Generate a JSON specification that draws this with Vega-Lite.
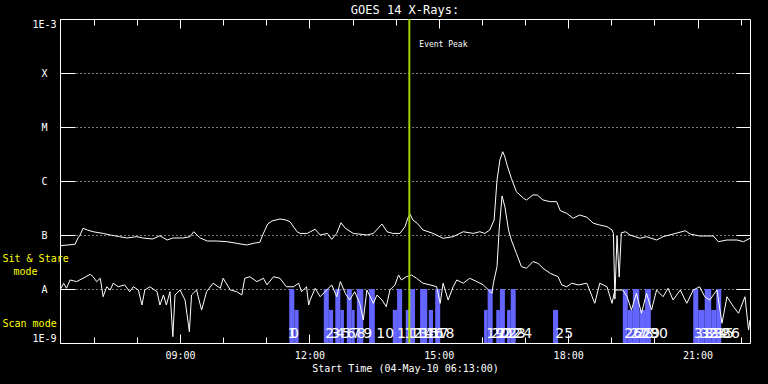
{
  "$schema": "https://vega.github.io/schema/vega-lite/v6.json",
  "width": 690,
  "height": 324,
  "autosize": "none",
  "padding": {"left": 60, "top": 19, "right": 18, "bottom": 41},
  "background": "black",
  "title": {"text": "GOES 14 X-Rays:", "color": "white", "font": "DejaVu Sans Mono", "fontSize": 12, "fontWeight": "normal", "offset": 1},
  "config": {
    "view": {"stroke": "white", "strokeWidth": 1},
    "axis": {"domain": false, "grid": false, "labelColor": "white", "tickColor": "white", "labelFont": "DejaVu Sans Mono", "labelFontSize": 10, "titleColor": "white", "titleFont": "DejaVu Sans Mono", "titleFontSize": 10, "titleFontWeight": "normal", "labelFlush": false, "labelOverlap": false}
  },
  "resolve": {"axis": {"x": "independent", "y": "independent"}},
  "layer": [
    {
      "data": {"values": [
        {"a":11.533,"b":11.65,"top":1e-8},{"a":11.65,"b":11.75,"top":4.1e-9},
        {"a":12.333,"b":12.45,"top":1e-8},{"a":12.45,"b":12.55,"top":4.1e-9},
        {"a":12.6,"b":12.717,"top":1e-8},{"a":12.717,"b":12.8,"top":4.1e-9},
        {"a":12.867,"b":12.983,"top":1e-8},{"a":12.983,"b":13.05,"top":4.1e-9},
        {"a":13.1,"b":13.25,"top":1e-8},{"a":13.383,"b":13.517,"top":1e-8},
        {"a":13.933,"b":14.033,"top":4.1e-9},{"a":14.033,"b":14.15,"top":1e-8},
        {"a":14.233,"b":14.333,"top":4.1e-9},{"a":14.333,"b":14.45,"top":1e-8},
        {"a":14.567,"b":14.733,"top":1e-8},{"a":14.767,"b":14.867,"top":4.1e-9},
        {"a":14.917,"b":15.033,"top":1e-8},
        {"a":16.05,"b":16.133,"top":4.1e-9},{"a":16.133,"b":16.25,"top":1e-8},
        {"a":16.333,"b":16.417,"top":4.1e-9},{"a":16.417,"b":16.533,"top":1e-8},
        {"a":16.583,"b":16.667,"top":4.1e-9},{"a":16.667,"b":16.783,"top":1e-8},
        {"a":17.65,"b":17.767,"top":4.1e-9},
        {"a":19.267,"b":19.383,"top":1e-8},{"a":19.383,"b":19.5,"top":4.1e-9},
        {"a":19.5,"b":19.65,"top":1e-8},{"a":19.65,"b":19.783,"top":4.1e-9},
        {"a":19.783,"b":19.917,"top":1e-8},
        {"a":20.9,"b":21.017,"top":1e-8},{"a":21.017,"b":21.167,"top":4.1e-9},
        {"a":21.167,"b":21.317,"top":1e-8},{"a":21.317,"b":21.433,"top":4.1e-9},
        {"a":21.433,"b":21.55,"top":1e-8}
      ]},
      "mark": {"type": "rect", "color": "#6464ff"},
      "encoding": {
        "x": {"field": "a", "type": "quantitative",
          "scale": {"domain": [6.21667, 22.21667], "nice": false, "zero": false},
          "axis": {"orient": "bottom", "title": "Start Time (04-May-10 06:13:00)",
            "values": [7, 8, 9, 10, 11, 12, 13, 14, 15, 16, 17, 18, 19, 20, 21, 22],
            "labelExpr": "datum.value % 3 == 0 ? (datum.value < 10 ? '0' : '') + datum.value + ':00' : ''",
            "tickSize": -6, "labelPadding": 13, "titlePadding": 3}},
        "x2": {"field": "b"},
        "y": {"field": "top", "type": "quantitative",
          "scale": {"type": "log", "domain": [1e-9, 1e-3]},
          "axis": {"orient": "left", "title": null,
            "values": [1e-9, 1e-8, 1e-7, 1e-6, 1e-5, 1e-4, 1e-3],
            "labelExpr": "datum.value > 5e-4 ? '1E-3' : datum.value > 5e-5 ? 'X' : datum.value > 5e-6 ? 'M' : datum.value > 5e-7 ? 'C' : datum.value > 5e-8 ? 'B' : datum.value > 5e-9 ? 'A' : '1E-9'",
            "grid": true, "gridColor": "white", "gridDash": [1, 3],
            "tickSize": -15, "labelPadding": 31, "labelAlign": "center", "labelFlush": true}},
        "y2": {"datum": 1e-9}
      }
    },
    {
      "data": {"values": [
        {"s":"L","h":6.217,"f":6.34e-8},{"s":"L","h":6.567,"f":6.73e-8},{"s":"L","h":6.633,"f":8.8e-8},{"s":"L","h":6.683,"f":1.0e-7},
        {"s":"L","h":6.75,"f":1.33e-7},{"s":"L","h":6.85,"f":1.24e-7},{"s":"L","h":6.983,"f":1.15e-7},{"s":"L","h":7.217,"f":1.07e-7},
        {"s":"L","h":7.383,"f":1.0e-7},{"s":"L","h":7.6,"f":9.31e-8},{"s":"L","h":7.767,"f":8.8e-8},{"s":"L","h":8.0,"f":9.31e-8},
        {"s":"L","h":8.133,"f":8.8e-8},{"s":"L","h":8.367,"f":8.43e-8},{"s":"L","h":8.533,"f":9.7e-8},{"s":"L","h":8.7,"f":8.08e-8},
        {"s":"L","h":8.833,"f":8.8e-8},{"s":"L","h":9.067,"f":8.8e-8},{"s":"L","h":9.233,"f":9.31e-8},{"s":"L","h":9.317,"f":1.15e-7},
        {"s":"L","h":9.467,"f":8.8e-8},{"s":"L","h":9.633,"f":7.74e-8},{"s":"L","h":9.85,"f":7.74e-8},{"s":"L","h":10.083,"f":7.52e-8},
        {"s":"L","h":10.317,"f":7.02e-8},{"s":"L","h":10.55,"f":6.53e-8},{"s":"L","h":10.733,"f":7.1e-8},{"s":"L","h":10.85,"f":7.33e-8},
        {"s":"L","h":10.917,"f":1.0e-7},{"s":"L","h":11.033,"f":1.6e-7},{"s":"L","h":11.133,"f":1.82e-7},{"s":"L","h":11.317,"f":1.98e-7},
        {"s":"L","h":11.45,"f":1.9e-7},{"s":"L","h":11.55,"f":1.76e-7},{"s":"L","h":11.65,"f":1.35e-7},{"s":"L","h":11.717,"f":1.15e-7},
        {"s":"L","h":11.783,"f":1.07e-7},{"s":"L","h":11.95,"f":1.07e-7},{"s":"L","h":12.133,"f":1.28e-7},{"s":"L","h":12.25,"f":1.0e-7},
        {"s":"L","h":12.417,"f":1.07e-7},{"s":"L","h":12.517,"f":8.32e-8},{"s":"L","h":12.633,"f":1.07e-7},{"s":"L","h":12.733,"f":1.69e-7},
        {"s":"L","h":12.833,"f":1.33e-7},{"s":"L","h":13.017,"f":1.07e-7},{"s":"L","h":13.333,"f":1.0e-7},{"s":"L","h":13.483,"f":1.07e-7},
        {"s":"L","h":13.683,"f":1.6e-7},{"s":"L","h":13.8,"f":1.15e-7},{"s":"L","h":13.933,"f":1.07e-7},{"s":"L","h":14.1,"f":1.07e-7},
        {"s":"L","h":14.217,"f":1.43e-7},{"s":"L","h":14.283,"f":2.06e-7},{"s":"L","h":14.333,"f":2.45e-7},{"s":"L","h":14.4,"f":1.9e-7},
        {"s":"L","h":14.5,"f":1.65e-7},{"s":"L","h":14.633,"f":1.24e-7},{"s":"L","h":14.867,"f":1.07e-7},{"s":"L","h":15.1,"f":8.69e-8},
        {"s":"L","h":15.333,"f":9.31e-8},{"s":"L","h":15.567,"f":1.15e-7},{"s":"L","h":15.8,"f":1.07e-7},{"s":"L","h":15.95,"f":1.15e-7},
        {"s":"L","h":16.067,"f":1.07e-7},{"s":"L","h":16.183,"f":1.24e-7},{"s":"L","h":16.283,"f":1.9e-7},{"s":"L","h":16.35,"f":1.04e-6},
        {"s":"L","h":16.417,"f":2.45e-6},{"s":"L","h":16.483,"f":3.49e-6},{"s":"L","h":16.533,"f":2.78e-6},{"s":"L","h":16.583,"f":1.98e-6},
        {"s":"L","h":16.683,"f":1.12e-6},{"s":"L","h":16.8,"f":6.34e-7},{"s":"L","h":16.967,"f":4.78e-7},{"s":"L","h":17.033,"f":4.45e-7},
        {"s":"L","h":17.183,"f":5.51e-7},{"s":"L","h":17.283,"f":5.51e-7},{"s":"L","h":17.417,"f":4.45e-7},{"s":"L","h":17.583,"f":4.14e-7},
        {"s":"L","h":17.733,"f":4.14e-7},{"s":"L","h":17.817,"f":2.82e-7},{"s":"L","h":17.967,"f":2.52e-7},{"s":"L","h":18.117,"f":2.04e-7},
        {"s":"L","h":18.267,"f":2.35e-7},{"s":"L","h":18.433,"f":2.13e-7},{"s":"L","h":18.583,"f":1.65e-7},{"s":"L","h":18.733,"f":1.53e-7},
        {"s":"L","h":18.9,"f":1.43e-7},{"s":"L","h":19.017,"f":1.24e-7},{"s":"L","h":19.05,"f":1.07e-7},{"s":"L","h":19.083,"f":6.5e-9},
        {"s":"L","h":19.133,"f":9.58e-8},{"s":"L","h":19.183,"f":1.66e-8},{"s":"L","h":19.233,"f":1.1e-7},{"s":"L","h":19.333,"f":1.15e-7},
        {"s":"L","h":19.433,"f":1.0e-7},{"s":"L","h":19.667,"f":8.69e-8},{"s":"L","h":19.817,"f":9.31e-8},{"s":"L","h":20.05,"f":8.08e-8},
        {"s":"L","h":20.2,"f":9.31e-8},{"s":"L","h":20.433,"f":1.04e-7},{"s":"L","h":20.717,"f":1.2e-7},{"s":"L","h":20.833,"f":1.04e-7},
        {"s":"L","h":21.05,"f":9.58e-8},{"s":"L","h":21.367,"f":9.58e-8},{"s":"L","h":21.483,"f":7.52e-8},{"s":"L","h":21.683,"f":8.08e-8},
        {"s":"L","h":21.917,"f":8.08e-8},{"s":"L","h":22.067,"f":7.52e-8},{"s":"L","h":22.217,"f":8.69e-8},
        {"s":"S","h":6.217,"f":9.58e-9},{"s":"S","h":6.3,"f":1.28e-8},{"s":"S","h":6.367,"f":1.03e-8},{"s":"S","h":6.45,"f":1.47e-8},
        {"s":"S","h":6.6,"f":1.37e-8},{"s":"S","h":6.75,"f":1.58e-8},{"s":"S","h":6.917,"f":1.87e-8},{"s":"S","h":6.983,"f":1.69e-8},
        {"s":"S","h":7.067,"f":1.37e-8},{"s":"S","h":7.15,"f":1.58e-8},{"s":"S","h":7.217,"f":7.2e-9},{"s":"S","h":7.3,"f":1.1e-8},
        {"s":"S","h":7.383,"f":9.58e-9},{"s":"S","h":7.45,"f":1.28e-8},{"s":"S","h":7.567,"f":1.1e-8},{"s":"S","h":7.717,"f":1.19e-8},
        {"s":"S","h":7.833,"f":8.91e-9},{"s":"S","h":7.917,"f":1.1e-8},{"s":"S","h":8.033,"f":9.58e-9},{"s":"S","h":8.117,"f":5.06e-9},
        {"s":"S","h":8.183,"f":9.58e-9},{"s":"S","h":8.3,"f":1.1e-8},{"s":"S","h":8.467,"f":8.91e-9},{"s":"S","h":8.533,"f":5.06e-9},
        {"s":"S","h":8.617,"f":7.74e-9},{"s":"S","h":8.683,"f":5.06e-9},{"s":"S","h":8.767,"f":8.91e-9},{"s":"S","h":8.833,"f":1.31e-9},
        {"s":"S","h":8.883,"f":7.74e-9},{"s":"S","h":9.0,"f":9.58e-9},{"s":"S","h":9.117,"f":6.25e-9},{"s":"S","h":9.217,"f":1.62e-9},
        {"s":"S","h":9.267,"f":7.74e-9},{"s":"S","h":9.383,"f":9.58e-9},{"s":"S","h":9.5,"f":4.08e-9},{"s":"S","h":9.617,"f":8.91e-9},
        {"s":"S","h":9.767,"f":1.28e-8},{"s":"S","h":9.933,"f":1.03e-8},{"s":"S","h":10.0,"f":1.58e-8},{"s":"S","h":10.167,"f":9.58e-9},
        {"s":"S","h":10.317,"f":8.91e-9},{"s":"S","h":10.433,"f":7.74e-9},{"s":"S","h":10.5,"f":1.58e-8},{"s":"S","h":10.617,"f":1.69e-8},
        {"s":"S","h":10.783,"f":1.37e-8},{"s":"S","h":10.933,"f":1.58e-8},{"s":"S","h":11.017,"f":1.19e-8},{"s":"S","h":11.167,"f":1.69e-8},
        {"s":"S","h":11.317,"f":1.58e-8},{"s":"S","h":11.467,"f":1.1e-8},{"s":"S","h":11.633,"f":1.1e-8},{"s":"S","h":11.75,"f":1.28e-8},
        {"s":"S","h":11.817,"f":8.91e-9},{"s":"S","h":11.933,"f":1.1e-8},{"s":"S","h":11.983,"f":5.06e-9},{"s":"S","h":12.017,"f":6.25e-9},
        {"s":"S","h":12.133,"f":1.03e-8},{"s":"S","h":12.25,"f":7.2e-9},{"s":"S","h":12.4,"f":9.58e-9},{"s":"S","h":12.517,"f":1.19e-8},
        {"s":"S","h":12.633,"f":7.2e-9},{"s":"S","h":12.717,"f":1.37e-8},{"s":"S","h":12.833,"f":8.32e-9},{"s":"S","h":12.933,"f":6.25e-9},
        {"s":"S","h":13.05,"f":8.91e-9},{"s":"S","h":13.167,"f":5.43e-9},{"s":"S","h":13.25,"f":2.67e-9},{"s":"S","h":13.333,"f":9.58e-9},
        {"s":"S","h":13.483,"f":5.43e-9},{"s":"S","h":13.567,"f":7.74e-9},{"s":"S","h":13.683,"f":6.25e-9},{"s":"S","h":13.783,"f":4.7e-9},
        {"s":"S","h":13.867,"f":9.58e-9},{"s":"S","h":13.983,"f":1.19e-8},{"s":"S","h":14.067,"f":1.82e-8},{"s":"S","h":14.133,"f":1.47e-8},
        {"s":"S","h":14.25,"f":1.69e-8},{"s":"S","h":14.367,"f":1.82e-8},{"s":"S","h":14.483,"f":1.58e-8},{"s":"S","h":14.633,"f":1.28e-8},
        {"s":"S","h":14.8,"f":1.19e-8},{"s":"S","h":14.95,"f":1.1e-8},{"s":"S","h":15.033,"f":5.43e-9},{"s":"S","h":15.1,"f":1.28e-8},
        {"s":"S","h":15.217,"f":6.25e-9},{"s":"S","h":15.333,"f":1.1e-8},{"s":"S","h":15.417,"f":1.47e-8},{"s":"S","h":15.567,"f":1.28e-8},
        {"s":"S","h":15.717,"f":1.58e-8},{"s":"S","h":15.883,"f":1.37e-8},{"s":"S","h":16.033,"f":1.19e-8},{"s":"S","h":16.15,"f":9.58e-9},
        {"s":"S","h":16.233,"f":8.32e-9},{"s":"S","h":16.267,"f":1.28e-8},{"s":"S","h":16.35,"f":2.59e-8},{"s":"S","h":16.4,"f":1.24e-7},
        {"s":"S","h":16.467,"f":5.28e-7},{"s":"S","h":16.533,"f":3.34e-7},{"s":"S","h":16.617,"f":1.24e-7},{"s":"S","h":16.683,"f":8.08e-8},
        {"s":"S","h":16.8,"f":4.58e-8},{"s":"S","h":16.917,"f":2.59e-8},{"s":"S","h":17.033,"f":2.42e-8},{"s":"S","h":17.183,"f":3.21e-8},
        {"s":"S","h":17.3,"f":2.99e-8},{"s":"S","h":17.417,"f":2.42e-8},{"s":"S","h":17.583,"f":1.95e-8},{"s":"S","h":17.767,"f":1.69e-8},
        {"s":"S","h":17.85,"f":1.19e-8},{"s":"S","h":17.967,"f":1.1e-8},{"s":"S","h":18.083,"f":1.28e-8},{"s":"S","h":18.233,"f":1.19e-8},
        {"s":"S","h":18.433,"f":1.28e-8},{"s":"S","h":18.617,"f":5.43e-9},{"s":"S","h":18.733,"f":1.28e-8},{"s":"S","h":18.9,"f":1.1e-8},
        {"s":"S","h":19.017,"f":5.43e-9},{"s":"S","h":19.083,"f":9.58e-9},{"s":"S","h":19.267,"f":9.58e-9},{"s":"S","h":19.367,"f":7.2e-9},
        {"s":"S","h":19.467,"f":4.08e-9},{"s":"S","h":19.583,"f":8.32e-9},{"s":"S","h":19.7,"f":3.55e-9},{"s":"S","h":19.817,"f":8.32e-9},
        {"s":"S","h":19.933,"f":4.08e-9},{"s":"S","h":20.05,"f":9.58e-9},{"s":"S","h":20.2,"f":7.2e-9},{"s":"S","h":20.317,"f":1.03e-8},
        {"s":"S","h":20.433,"f":6.25e-9},{"s":"S","h":20.6,"f":9.58e-9},{"s":"S","h":20.75,"f":5.43e-9},{"s":"S","h":20.9,"f":9.58e-9},
        {"s":"S","h":21.05,"f":1.1e-8},{"s":"S","h":21.167,"f":7.2e-9},{"s":"S","h":21.283,"f":6.25e-9},{"s":"S","h":21.45,"f":9.58e-9},
        {"s":"S","h":21.567,"f":2.32e-9},{"s":"S","h":21.683,"f":7.2e-9},{"s":"S","h":21.833,"f":4.7e-9},{"s":"S","h":21.95,"f":3.55e-9},
        {"s":"S","h":22.1,"f":7.2e-9},{"s":"S","h":22.183,"f":1.74e-9},{"s":"S","h":22.217,"f":2.67e-9}
      ]},
      "mark": {"type": "line", "color": "white", "strokeWidth": 1, "clip": true},
      "encoding": {
        "x": {"field": "h", "type": "quantitative",
          "axis": {"orient": "top", "title": null, "labels": false, "values": [7, 8, 9, 10, 11, 12, 13, 14, 15, 16, 17, 18, 19, 20, 21, 22], "tickSize": -6}},
        "y": {"field": "f", "type": "quantitative",
          "axis": {"orient": "right", "title": null, "labels": false, "values": [1e-8, 1e-7, 1e-6, 1e-5, 1e-4], "tickSize": -14}},
        "detail": {"field": "s"}
      }
    },
    {
      "data": {"values": [
        {"h":11.55,"n":"0"},{"h":11.5,"n":"1"},{"h":12.367,"n":"2"},{"h":12.5,"n":"3"},{"h":12.617,"n":"4"},
        {"h":12.75,"n":"5"},{"h":12.867,"n":"6"},{"h":12.983,"n":"7"},{"h":13.1,"n":"8"},{"h":13.25,"n":"9"},
        {"h":13.55,"n":"10"},{"h":14.033,"n":"11"},{"h":14.2,"n":"12"},{"h":14.333,"n":"13"},{"h":14.467,"n":"14"},
        {"h":14.583,"n":"15"},{"h":14.7,"n":"16"},{"h":14.817,"n":"17"},{"h":14.95,"n":"18"},{"h":16.1,"n":"19"},
        {"h":16.217,"n":"20"},{"h":16.35,"n":"21"},{"h":16.483,"n":"22"},{"h":16.6,"n":"23"},{"h":16.75,"n":"24"},
        {"h":17.7,"n":"25"},{"h":19.3,"n":"26"},{"h":19.433,"n":"27"},{"h":19.567,"n":"28"},{"h":19.717,"n":"29"},
        {"h":19.9,"n":"30"},{"h":20.917,"n":"31"},{"h":21.05,"n":"32"},{"h":21.167,"n":"33"},{"h":21.283,"n":"34"},
        {"h":21.433,"n":"35"},{"h":21.567,"n":"36"}
      ]},
      "mark": {"type": "text", "color": "white", "font": "DejaVu Sans", "fontSize": 14, "align": "left", "baseline": "alphabetic"},
      "encoding": {
        "x": {"field": "h", "type": "quantitative",
          "axis": {"orient": "bottom", "title": null, "labels": false, "values": [9, 12, 15, 18, 21], "tickSize": -9}},
        "y": {"datum": 1.25e-9, "type": "quantitative",
          "axis": {"orient": "left", "title": null, "values": [2.15e-8], "ticks": false,
            "labelExpr": "'mode'", "labelColor": "#ffff00", "labelAlign": "left", "labelPadding": 47, "labelBaseline": "middle"}},
        "text": {"field": "n"}
      }
    },
    {
      "data": {"values": [{"h": 14.317}]},
      "mark": {"type": "rule", "color": "#a0d000", "strokeWidth": 2},
      "encoding": {"x": {"field": "h", "type": "quantitative",
        "axis": {"orient": "top", "title": null, "labels": false, "values": [9, 12, 15, 18, 21], "tickSize": -9}}}
    },
    {
      "data": {"values": [{"h": 14.317, "label": "Event Peak"}]},
      "mark": {"type": "text", "color": "white", "font": "DejaVu Sans Mono", "fontSize": 8, "align": "left", "baseline": "middle", "dx": 10},
      "encoding": {
        "x": {"field": "h", "type": "quantitative", "axis": null},
        "y": {"datum": 3.3e-4, "type": "quantitative",
          "axis": {"orient": "left", "title": null, "values": [2.25e-9, 3.75e-8], "ticks": false,
            "labelExpr": "datum.value > 3e-8 ? 'Sit & Stare' : 'Scan mode'",
            "labelColor": "#ffff00", "labelAlign": "left", "labelPadding": 58, "labelBaseline": "middle"}},
        "text": {"field": "label"}
      }
    }
  ]
}
